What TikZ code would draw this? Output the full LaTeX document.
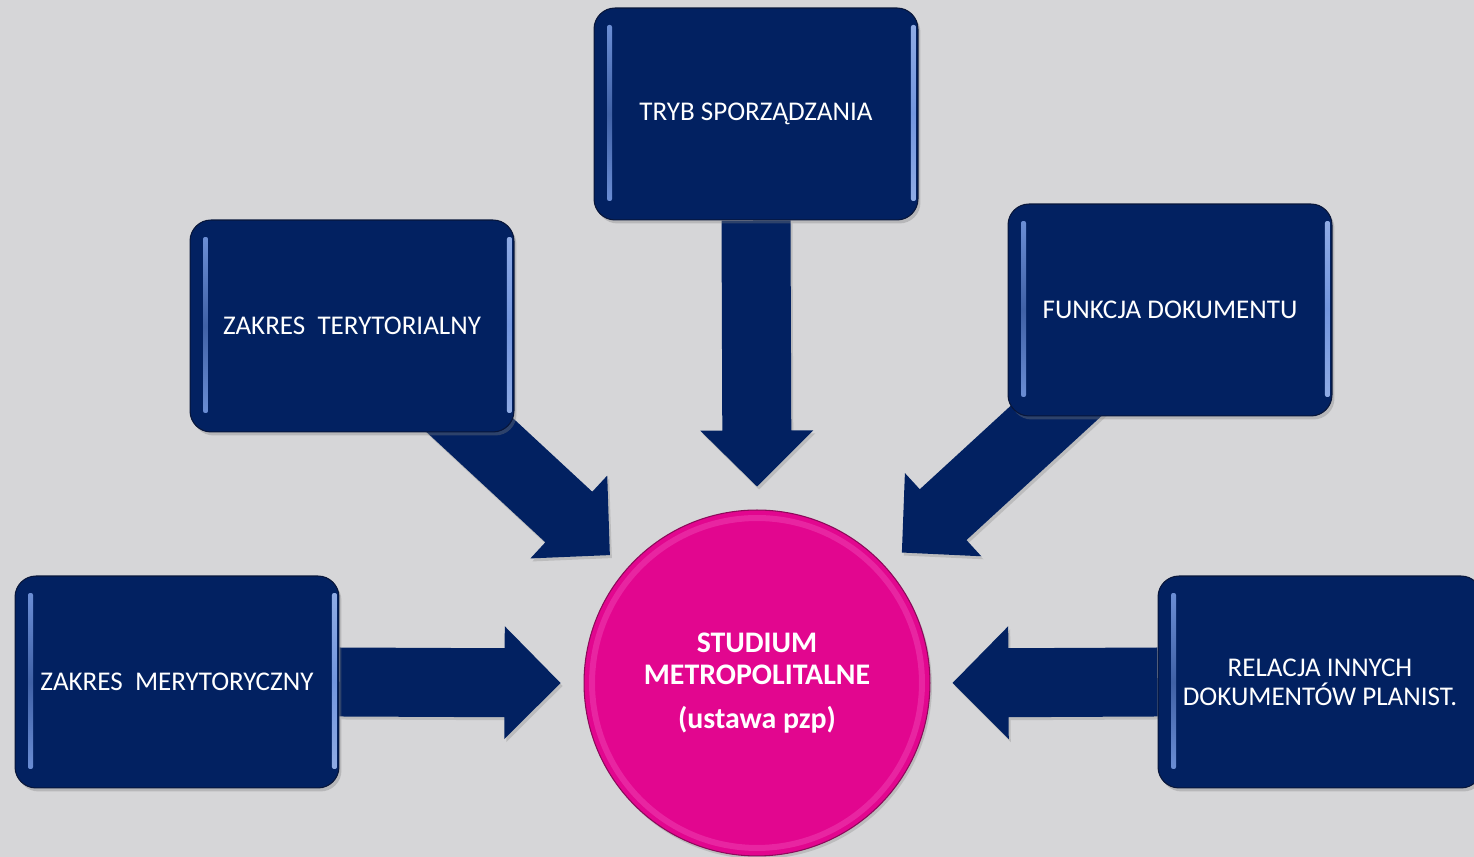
\documentclass[tikz,border=0pt]{standalone}
\usepackage{fontspec}
\setmainfont{Carlito}
\usepackage{tikz}
\usetikzlibrary{calc}
\usetikzlibrary{shadows}

\definecolor{granat}{RGB}{2,33,97}
\definecolor{granatbrzeg}{RGB}{8,22,58}
\definecolor{blask}{RGB}{115,150,222}
\definecolor{amarant}{RGB}{226,6,143}
\definecolor{amarantbrzeg}{RGB}{140,10,90}
\definecolor{amarantblask}{RGB}{245,95,195}
\definecolor{tloszare}{RGB}{214,214,216}

\pgfdeclarelayer{tlo}
\pgfdeclarelayer{strzalki}
\pgfsetlayers{tlo,strzalki,main}

\begin{document}
\begin{tikzpicture}[
        x=0.02cm, y=0.02cm,
        pole/.style={rectangle, rounded corners=0.42cm, draw=granatbrzeg, line width=0.6pt,
            fill=granat, minimum width=6.48cm, minimum height=4.24cm,
            text=white, align=center, font=\fontsize{15.4}{16.5}\selectfont,
            drop shadow={opacity=0.35, shadow xshift=0.05cm, shadow yshift=-0.07cm},
            path picture={
                \shade[rounded corners=0.04cm, top color=blask, bottom color=blask,
                        middle color=granat!45!blask]
                    ($(path picture bounding box.north west)+(0.26cm,-0.34cm)$) rectangle
                    ($(path picture bounding box.south west)+(0.36cm,0.38cm)$);
                \shade[rounded corners=0.04cm, top color=blask!80!white,
                        bottom color=blask!80!white, middle color=blask]
                    ($(path picture bounding box.north east)+(-0.14cm,-0.34cm)$) rectangle
                    ($(path picture bounding box.south east)+(-0.04cm,0.38cm)$);
            }},
        kolo/.style={circle, minimum size=6.92cm, inner sep=0pt, fill=amarant,
            draw=amarantbrzeg, line width=0.6pt, text=white, align=center,
            font=\bfseries\fontsize{17}{18.2}\selectfont,
            drop shadow={opacity=0.3, shadow xshift=0.04cm, shadow yshift=-0.06cm},
            path picture={
                \draw[amarantblask, line width=0.12cm, opacity=0.35]
                    (path picture bounding box.center) circle (3.3cm);
            }},
        strz/.style={fill=granat,
            drop shadow={opacity=0.3, shadow xshift=0.04cm, shadow yshift=-0.06cm}}
    ]
        % --- Tlo i ramka obrazka ---
        \useasboundingbox (0,0) rectangle (1474,857);
        \clip (0,0) rectangle (1474,857);
        \begin{pgfonlayer}{tlo}
            \fill[tloszare] (0,0) rectangle (1474,857);
        \end{pgfonlayer}

        % --- Kolo srodkowe ---
        \node[kolo] (studium) at (757,174) {STUDIUM\\METROPOLITALNE\\[7pt](ustawa pzp)};

        % --- Pola z opisami ---
        \node[pole] (tryb) at (756,743) {TRYB SPORZĄDZANIA};
        \node[pole] (teryt) at (352,531) {ZAKRES\ \ TERYTORIALNY};
        \node[pole] (funkcja) at (1170,547) {FUNKCJA DOKUMENTU};
        \node[pole] (meryt) at (177,175) {ZAKRES\ \ MERYTORYCZNY};
        \node[pole] (relacja) at (1320,175) {RELACJA INNYCH\\DOKUMENTÓW PLANIST.};

        % --- Poczatki i groty strzalek ---
        \coordinate (sTeryt) at ($(teryt.center)+(82,-66)$);
        \coordinate (sFunkcja) at ($(funkcja.center)+(-77,-67)$);
        \coordinate (gTryb) at ($(studium.north)+(0,23)$);
        \coordinate (gTeryt) at ($(studium.center)+(139:3.9cm)$);
        \coordinate (gFunkcja) at ($(studium.center)+(42:3.9cm)$);
        \coordinate (gMeryt) at ($(studium.west)+(-23,0)$);
        \coordinate (gRelacja) at ($(studium.east)+(22,0)$);

        % --- Gruba strzalka: #1 poczatek, #2 grot ---
        \def\strzalka#1#2{%
            \coordinate (baza) at ($(#2)!1.12cm!(#1)$);
            \fill[strz] ($(#1)!0.69cm!90:(#2)$) -- ($(baza)!0.69cm!90:(#2)$)
                -- ($(baza)!1.13cm!90:(#2)$) -- (#2) -- ($(baza)!1.13cm!-90:(#2)$)
                -- ($(baza)!0.69cm!-90:(#2)$) -- ($(#1)!0.69cm!-90:(#2)$) -- cycle;
        }

        \begin{pgfonlayer}{strzalki}
            \strzalka{tryb.south}{gTryb}
            \strzalka{sTeryt}{gTeryt}
            \strzalka{sFunkcja}{gFunkcja}
            \strzalka{meryt.east}{gMeryt}
            \strzalka{relacja.west}{gRelacja}
        \end{pgfonlayer}

    \end{tikzpicture}
\end{document}
